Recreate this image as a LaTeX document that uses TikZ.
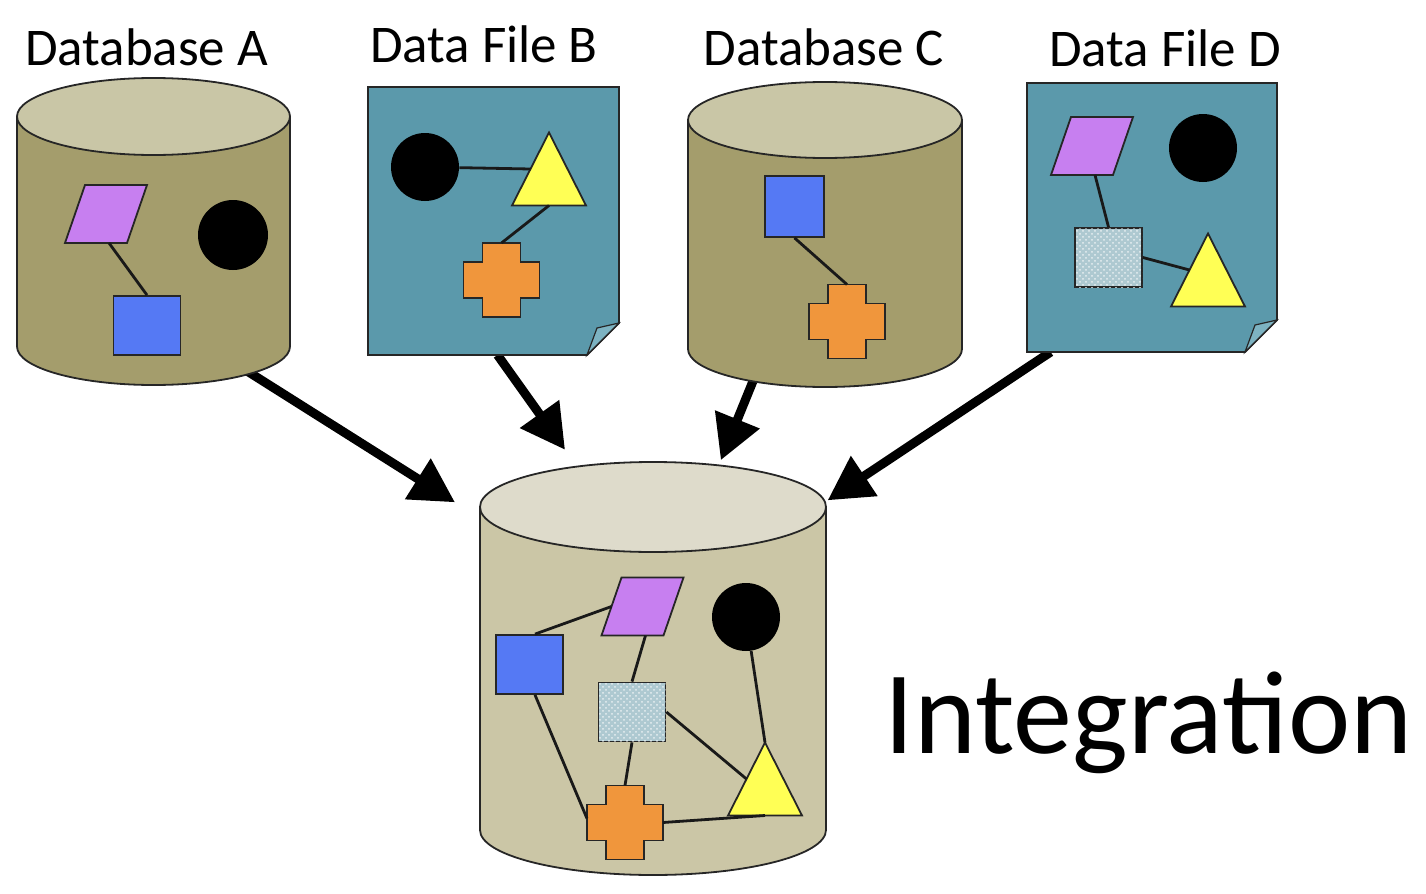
\documentclass[tikz,border=0pt]{standalone}
\usepackage{fontspec}
\setmainfont{Carlito}
\usepackage{tikz}
\usetikzlibrary{arrows.meta,patterns,backgrounds}

\definecolor{dbbody}{HTML}{A49D6C}
\definecolor{dbtop}{HTML}{C9C6A6}
\definecolor{intbody}{HTML}{CBC6A6}
\definecolor{inttop}{HTML}{DEDBCB}
\definecolor{filebg}{HTML}{5B99AB}
\definecolor{foldbg}{HTML}{7DB3C2}
\definecolor{paraviolet}{HTML}{C77FF0}
\definecolor{sqblue}{HTML}{5579F4}
\definecolor{triyellow}{HTML}{FFFF55}
\definecolor{crossorange}{HTML}{F0963C}
\definecolor{hatchgray}{HTML}{AEC9D1}

% cylinder drawn round a named box: node, x radius, y radius, body, top
\newcommand{\drawcyl}[5]{%
  \draw[shp, fill=#4] ([yshift=-#3]#1.north west) -- ([yshift=#3]#1.south west)
    arc[start angle=180, end angle=360, x radius=#2, y radius=#3]
    -- ([yshift=-#3]#1.north east) -- cycle;
  \draw[shp, fill=#5] ([yshift=-#3]#1.north) ellipse[x radius=#2, y radius=#3];}

% sheet with folded corner round a named box
\newcommand{\drawsheet}[1]{%
  \draw[shp, fill=filebg] (#1.north west) -- (#1.north east) -- ([yshift=16pt]#1.south east)
    -- ([xshift=-16pt]#1.south east) -- (#1.south west) -- cycle;
  \draw[shp, fill=foldbg, line width=0.6pt] ([yshift=16pt]#1.south east)
    -- ([xshift=-11pt,yshift=13.5pt]#1.south east) -- ([xshift=-16pt]#1.south east) -- cycle;}

\tikzset{
  para/.pic={
    \draw[shp, fill=paraviolet] (-21,-29) -- (41,-29) -- (21,29) -- (-41,29) -- cycle;
    \coordinate (-s) at (3,29);
    \coordinate (-w) at (-31,0);
  },
  tri/.pic={
    \draw[shp, fill=triyellow] (0,-36) -- (37,37) -- (-37,37) -- cycle;
    \coordinate (-n) at (0,-36);
    \coordinate (-s) at (0,37);
    \coordinate (-w) at (-18.5,0.5);
  },
  cross/.pic={
    \draw[shp, fill=crossorange] (-19,-37) -- (19,-37) -- (19,-18) -- (38,-18) -- (38,18)
      -- (19,18) -- (19,37) -- (-19,37) -- (-19,18) -- (-38,18) -- (-38,-18) -- (-19,-18) -- cycle;
    \coordinate (-n) at (0,-37);
    \coordinate (-e) at (38,0);
    \coordinate (-w) at (-38,-4);
  },
}

\begin{document}
\begin{tikzpicture}[x=0.5pt,y=-0.5pt]
\tikzstyle{box}=[rectangle, inner sep=0pt, outer sep=0pt]
\tikzstyle{shp}=[draw=black!85, line width=0.9pt, line join=miter]
\tikzstyle{dot}=[circle, fill=black, inner sep=0pt, minimum size=34pt]
\tikzstyle{sq}=[shp, rectangle, fill=sqblue, inner sep=0pt, minimum width=33.5pt, minimum height=29.5pt]
\tikzstyle{hsq}=[sq, fill=hatchgray, postaction={pattern=crosshatch dots, pattern color=white!70!hatchgray}]
\tikzstyle{link}=[line width=1.4pt, black!90]
\tikzstyle{bigarrow}=[line width=4.5pt, -{Triangle[length=22pt,width=23pt]}]
\tikzstyle{lbl}=[font=\fontsize{26.5}{30}\selectfont, anchor=base, inner sep=0pt]

\useasboundingbox (0,0) rectangle (1426,894);

% boxes
\node[box, minimum width=136.5pt, minimum height=153.5pt] (dbA) at (153.5,231.5) {};
\node[box, minimum width=125.5pt, minimum height=134pt] (fB) at (493.5,221) {};
\node[box, minimum width=137pt, minimum height=152.5pt] (dbC) at (825,234.5) {};
\node[box, minimum width=125pt, minimum height=134.5pt] (fD) at (1152,217.5) {};
\node[box, minimum width=173pt, minimum height=206.5pt] (dbI) at (653,668.5) {};

% arrows
\begin{scope}[on background layer]
\draw[bigarrow, shorten <=-14pt, shorten >=14.8pt] (dbA.-53.1) -- (dbI.139.1);
\draw[bigarrow, shorten >=7.5pt] ([xshift=2pt]fB.south) -- (dbI.111.6);
\draw[bigarrow, shorten <=-8pt, shorten >=1pt] (dbC.-116.5) -- (dbI.72.8);
\draw[bigarrow, shorten >=1pt] (fD.-127.2) -- (dbI.44.9);
\end{scope}

% Database A
\drawcyl{dbA}{68.25pt}{19.25pt}{dbbody}{dbtop}
\node[lbl] (labA) at (146.5,65) {Database A};
\pic (pA) at (106,214) {para};
\node[dot, minimum size=35pt] (cA) at (233,235) {};
\node[sq] (bA) at (147,325.5) {};
\draw[link] (pA-s) -- (bA.north);

% Data File B
\drawsheet{fB}
\node[lbl] (labB) at (484,62) {Data File B};
\node[dot] (cB) at (425,167) {};
\pic (tB) at (549,168.5) {tri};
\pic (xB) at (501.5,280) {cross};
\draw[link] (cB) -- (tB-w);
\draw[link] (tB-s) -- (xB-n);

% Database C
\drawcyl{dbC}{68.5pt}{19pt}{dbbody}{dbtop}
\node[lbl] (labC) at (824,65) {Database C};
\node[sq, minimum width=29.5pt, minimum height=30.5pt] (bC) at (794.5,206.5) {};
\pic (xC) at (847,321.5) {cross};
\draw[link] (bC.south) -- (xC-n);

% Data File D
\drawsheet{fD}
\node[lbl] (labD) at (1165,66) {Data File D};
\pic (pD) at (1092,146) {para};
\node[dot] (cD) at (1203,148) {};
\node[hsq] (hD) at (1108.5,257.5) {};
\pic (tD) at (1208,269.5) {tri};
\draw[link] (pD-s) -- (hD.north);
\draw[link] (hD.east) -- (tD-w);

% Integration
\drawcyl{dbI}{86.5pt}{22.5pt}{intbody}{inttop}
\node[font=\fontsize{59}{62}\selectfont, anchor=base, inner sep=0pt] (labI) at (1148.5,753) {Integration};
\pic (pI) at (642.5,606.5) {para};
\node[dot] (cI) at (746,617) {};
\node[sq] (bI) at (529.5,664.5) {};
\node[hsq] (hI) at (632,712) {};
\pic (tI) at (765,778.5) {tri};
\pic (xI) at (625,822.5) {cross};
\draw[link] ([xshift=2.75pt]bI.north) -- (pI-w);
\draw[link] (pI-s) -- (hI.north);
\draw[link] ([xshift=2.75pt]bI.south) -- (xI-w);
\draw[link] (hI.south) -- (xI-n);
\draw[link] (hI.east) -- (tI-w);
\draw[link] (cI) -- (tI-n);
\draw[link] (xI-e) -- (tI-s);

\end{tikzpicture}
\end{document}
